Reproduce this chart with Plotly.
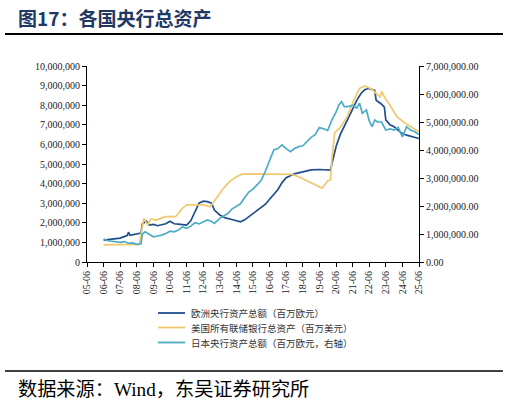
import plotly.graph_objects as go

# 欧洲央行资产总额（百万欧元）
ecb_dates = ["2006-06", "2006-12", "2007-06", "2007-11", "2007-12", "2008-01", "2008-06",
             "2008-09", "2008-10", "2009-01", "2009-03", "2009-06", "2009-09", "2009-12",
             "2010-03", "2010-06", "2010-09", "2010-12", "2011-03", "2011-06", "2011-09",
             "2011-12", "2012-03", "2012-06", "2012-09", "2012-12", "2013-02", "2013-06",
             "2013-10", "2014-02", "2014-06", "2014-09", "2014-12", "2015-03", "2015-06",
             "2015-09", "2015-12", "2016-03", "2016-06", "2016-09", "2016-12", "2017-03",
             "2017-06", "2017-09", "2017-12", "2018-06", "2018-12", "2019-06", "2019-12",
             "2020-02", "2020-03", "2020-04", "2020-06", "2020-09", "2020-12", "2021-03",
             "2021-06", "2021-09", "2021-12", "2022-03", "2022-06", "2022-08", "2022-10",
             "2022-11", "2023-01", "2023-03", "2023-05", "2023-06", "2023-09", "2023-12",
             "2024-03", "2024-06", "2024-09", "2024-12", "2025-03", "2025-06"]
ecb_values = [1.12, 1.16, 1.22, 1.35, 1.52, 1.36, 1.45,
              1.48, 1.95, 2.08, 1.88, 1.92, 1.85, 1.90,
              1.95, 2.08, 1.95, 1.93, 1.90, 1.88, 2.10,
              2.55, 3.00, 3.10, 3.08, 3.00, 2.65, 2.40,
              2.25, 2.18, 2.10, 2.05, 2.15, 2.30, 2.45,
              2.60, 2.78, 2.95, 3.20, 3.45, 3.70, 4.05,
              4.30, 4.40, 4.50, 4.60, 4.70, 4.72, 4.68,
              4.69, 5.00, 5.30, 5.88, 6.50, 6.90, 7.35,
              7.80, 8.25, 8.60, 8.80, 8.85, 8.80, 8.75,
              8.25, 8.15, 8.05, 7.90, 7.25, 7.00, 6.90,
              6.72, 6.55, 6.47, 6.40, 6.35, 6.30]

# 美国所有联储银行总资产（百万美元）
fed_dates = ["2006-06", "2007-06", "2008-03", "2008-08", "2008-09", "2008-11", "2008-12",
             "2009-02", "2009-04", "2009-08", "2009-12", "2010-03", "2010-10", "2011-03",
             "2011-06", "2012-06", "2012-11", "2013-03", "2013-08", "2014-01", "2014-06",
             "2014-10", "2015-06", "2016-06", "2017-06", "2017-10", "2018-03", "2018-08",
             "2018-12", "2019-04", "2019-08", "2019-10", "2019-12", "2020-02", "2020-03",
             "2020-05", "2020-09", "2021-02", "2021-07", "2021-11", "2022-03", "2022-08",
             "2022-12", "2023-02", "2023-03", "2023-06", "2023-09", "2024-02", "2024-08",
             "2025-02", "2025-06"]
fed_values = [0.87, 0.88, 0.89, 0.90, 1.40, 2.23, 2.10,
              1.90, 2.20, 2.14, 2.25, 2.31, 2.31, 2.74,
              2.91, 2.91, 2.82, 3.20, 3.70, 4.10, 4.35,
              4.48, 4.50, 4.48, 4.48, 4.47, 4.35, 4.18,
              4.05, 3.90, 3.77, 3.95, 4.15, 4.18, 5.20,
              6.60, 6.85, 7.41, 8.27, 8.86, 8.98, 8.81,
              8.52, 8.40, 8.70, 8.30, 8.00, 7.41, 7.08,
              6.80, 6.65]

# 日本央行资产总额（右轴）
boj_dates = ["2006-06", "2006-09", "2006-12", "2007-03", "2007-06", "2007-09", "2007-12",
             "2008-03", "2008-06", "2008-09", "2008-10", "2008-12", "2009-03", "2009-06",
             "2009-09", "2009-12", "2010-03", "2010-06", "2010-09", "2010-12", "2011-03",
             "2011-06", "2011-09", "2011-12", "2012-03", "2012-06", "2012-09", "2012-12",
             "2013-02", "2013-06", "2013-09", "2013-12", "2014-03", "2014-06", "2014-09",
             "2014-12", "2015-03", "2015-06", "2015-09", "2015-12", "2016-03", "2016-06",
             "2016-09", "2016-12", "2017-03", "2017-06", "2017-09", "2017-12", "2018-03",
             "2018-06", "2018-09", "2018-12", "2019-03", "2019-06", "2019-09", "2019-12",
             "2020-03", "2020-06", "2020-08", "2020-10", "2020-12", "2021-03", "2021-06",
             "2021-09", "2021-11", "2022-01", "2022-04", "2022-06", "2022-08", "2022-10",
             "2022-12", "2023-03", "2023-06", "2023-09", "2023-12", "2024-03", "2024-06",
             "2024-09", "2024-12", "2025-03", "2025-06"]
boj_values = [0.82, 0.76, 0.74, 0.72, 0.70, 0.73, 0.67,
              0.68, 0.63, 0.65, 1.00, 1.08, 0.98, 0.90,
              0.93, 0.96, 1.02, 1.10, 1.08, 1.14, 1.25,
              1.20, 1.28, 1.40, 1.36, 1.44, 1.50, 1.45,
              1.38, 1.56, 1.66, 1.74, 1.90, 2.00, 2.08,
              2.30, 2.50, 2.60, 2.75, 2.92, 3.25, 3.60,
              4.00, 4.05, 4.18, 4.05, 3.94, 4.05, 4.12,
              4.15, 4.30, 4.45, 4.55, 4.80, 4.76, 4.70,
              5.07, 5.35, 5.60, 5.73, 5.55, 5.55, 5.60,
              5.50, 5.67, 5.31, 5.43, 5.05, 4.83, 5.07,
              5.00, 5.00, 4.71, 4.75, 4.71, 4.80, 4.47,
              4.83, 4.71, 4.65, 4.55]

names = ["欧洲央行资产总额（百万欧元）",
         "美国所有联储银行总资产（百万美元）",
         "日本央行资产总额（百万欧元，右轴）"]
colors = ["#1F4E8C", "#F0C870", "#4BACC6"]

year_ticks = [f"{y}-06-01" for y in range(2005, 2026)]
year_labels = [f"{y % 100:02d}-06" for y in range(2005, 2026)]

serif = "Times New Roman, Liberation Serif, serif"
cjk = "Noto Sans CJK SC"

# 像素 -> paper 坐标（绘图区 x: 87~419, y: 66~262）
def px(x):
    return (x - 87) / 332


def py(y):
    return (262 - y) / 196


fig = go.Figure()
fig.add_trace(go.Scatter(x=ecb_dates, y=[v * 1e6 for v in ecb_values], name=names[0],
                         mode="lines", line=dict(color=colors[0], width=1.7)))
fig.add_trace(go.Scatter(x=fed_dates, y=[v * 1e6 for v in fed_values], name=names[1],
                         mode="lines", line=dict(color=colors[1], width=1.7)))
fig.add_trace(go.Scatter(x=boj_dates, y=[v * 1e6 for v in boj_values], name=names[2],
                         mode="lines", line=dict(color=colors[2], width=1.7), yaxis="y2"))

axis_style = dict(showgrid=False, zeroline=False,
                  showline=True, linecolor="black", linewidth=1,
                  ticks="outside", ticklen=4, tickcolor="black",
                  tickfont=dict(family=serif, size=10, color="#222"))

fig.update_layout(
    width=509, height=402,
    margin=dict(l=87, r=90, t=66, b=140),
    paper_bgcolor="white", plot_bgcolor="white",
    showlegend=False,
    xaxis=dict(type="date", range=["2005-06-01", "2025-06-01"],
               tickvals=year_ticks, ticktext=year_labels, tickangle=-90, **axis_style),
    yaxis=dict(range=[0, 10e6], dtick=1e6, tickformat=",d", **axis_style),
    yaxis2=dict(overlaying="y", side="right", range=[0, 7e6], dtick=1e6,
                tickformat=",.2f", **axis_style),
)

# 图例（手动绘制，行距更紧凑）
legend_rows = [313, 327.5, 342.5]
for name, color, row in zip(names, colors, legend_rows):
    fig.add_shape(type="line", xref="paper", yref="paper",
                  x0=px(158), x1=px(185), y0=py(row), y1=py(row),
                  line=dict(color=color, width=1.8))
    fig.add_annotation(text=name, xref="paper", yref="paper", x=px(189), y=py(row),
                       xanchor="left", yanchor="middle", showarrow=False,
                       font=dict(family=cjk, size=9.5, color="#333"))

# 标题与来源
fig.add_annotation(text="<b>图17：各国央行总资产</b>", xref="paper", yref="paper",
                   x=px(16), y=py(17), xanchor="left", yanchor="middle",
                   showarrow=False, font=dict(family=cjk, size=19, color="#1F3864"))
fig.add_annotation(text="数据来源：<span style='font-family:Times New Roman, Liberation Serif, serif'>Wind</span>，东吴证券研究所",
                   xref="paper", yref="paper", x=px(16), y=py(388),
                   xanchor="left", yanchor="middle",
                   showarrow=False, font=dict(family=cjk, size=19.2, color="black"))
fig.add_shape(type="line", xref="paper", yref="paper",
              x0=px(5), x1=px(503), y0=py(34), y1=py(34),
              line=dict(color="black", width=2.2))
fig.add_shape(type="line", xref="paper", yref="paper",
              x0=px(5), x1=px(503), y0=py(371), y1=py(371),
              line=dict(color="black", width=1.6))

fig.write_html("out.html", config={"displayModeBar": False},
               post_script="document.body.style.margin='0';")
